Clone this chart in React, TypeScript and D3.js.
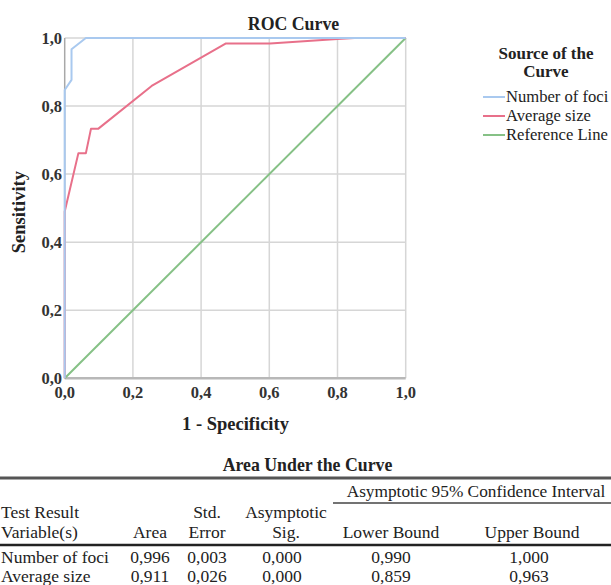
import React from "react";
import * as d3 from "d3";

// ---- Data ----
const fociFpr = [0, 0, 0.02, 0.02, 0.062, 1];
const fociSens = [0, 0.847, 0.877, 0.967, 1, 1];
const sizeFpr = [0, 0, 0.04, 0.062, 0.077, 0.098, 0.255, 0.473, 0.602, 0.8, 0.85, 1];
const sizeSens = [0, 0.49, 0.661, 0.661, 0.733, 0.733, 0.859, 0.984, 0.984, 0.997, 1, 1];
const refFpr = [0, 1];
const refSens = [0, 1];
const ticks = [0, 0.2, 0.4, 0.6, 0.8, 1.0];

const seriesNames = ["Number of foci", "Average size", "Reference Line"];
const seriesColors = ["#a9c9ef", "#e8708a", "#86c186"];

const tableVariables = ["Number of foci", "Average size"];
const tableArea = ["0,996", "0,911"];
const tableStdError = ["0,003", "0,026"];
const tableSig = ["0,000", "0,000"];
const tableLower = ["0,990", "0,859"];
const tableUpper = ["1,000", "0,963"];

const FONT = "Liberation Serif, Times New Roman, serif";

export default function App() {
  const x = d3.scaleLinear().domain([0, 1]).range([64.7, 405.7]);
  const y = d3.scaleLinear().domain([0, 1]).range([378.3, 38]);
  const fmt = (v: number) => v.toFixed(1).replace(".", ",");

  const line = d3
    .line<[number, number]>()
    .x((d) => x(d[0]))
    .y((d) => y(d[1]));

  const series = [
    { fpr: refFpr, sens: refSens, color: seriesColors[2] },
    { fpr: sizeFpr, sens: sizeSens, color: seriesColors[1] },
    { fpr: fociFpr, sens: fociSens, color: seriesColors[0] },
  ];

  const rowBase = [563, 582];
  const T = (props: any) => <text fontFamily={FONT} fill="#222" {...props} />;

  return (
    <svg
      width={611}
      height={585}
      style={{ position: "absolute", left: 0, top: 0, background: "#fff" }}
      fontFamily={FONT}
    >
      <rect x={0} y={0} width={611} height={585} fill="#fff" />
      {/* Title */}
      <T x={293.5} y={30} textAnchor="middle" fontWeight="bold" fontSize={17.8}>
        ROC Curve
      </T>

      {/* Grid */}
      {ticks.slice(1).map((t) => (
        <line key={"gx" + t} x1={x(t)} x2={x(t)} y1={y(0)} y2={y(1)} stroke="#d6d6d6" strokeWidth={1.5} />
      ))}
      {ticks.slice(1).map((t) => (
        <line key={"gy" + t} x1={x(0)} x2={x(1)} y1={y(t)} y2={y(t)} stroke="#d6d6d6" strokeWidth={1.5} />
      ))}
      {/* Axes */}
      <line x1={x(0)} x2={x(0)} y1={y(0)} y2={y(1)} stroke="#a8a8a8" strokeWidth={1.5} />
      <line x1={x(0)} x2={x(1)} y1={y(0)} y2={y(0)} stroke="#b8b8b8" strokeWidth={2.5} />

      {/* Tick labels */}
      {ticks.map((t) => (
        <T key={"ty" + t} x={62} y={y(t) + 6} textAnchor="end" fontWeight="bold" fontSize={16.5} fill="#333">
          {fmt(t)}
        </T>
      ))}
      {ticks.map((t) => (
        <T key={"tx" + t} x={x(t)} y={397.5} textAnchor="middle" fontWeight="bold" fontSize={16.5} fill="#333">
          {fmt(t)}
        </T>
      ))}

      {/* Axis titles */}
      <T x={235.5} y={430} textAnchor="middle" fontWeight="bold" fontSize={18.5}>
        1 - Specificity
      </T>
      <T
        transform={`translate(25, ${(y(0) + y(1)) / 2 + 4}) rotate(-90)`}
        textAnchor="middle"
        fontWeight="bold"
        fontSize={18.5}
      >
        Sensitivity
      </T>

      {/* Curves */}
      {series.map((s, i) => (
        <path
          key={"s" + i}
          d={line(s.fpr.map((f, j) => [f, s.sens[j]] as [number, number])) || ""}
          fill="none"
          stroke={s.color}
          strokeWidth={2}
          strokeLinejoin="round"
        />
      ))}

      {/* Legend */}
      <T x={546} y={59} textAnchor="middle" fontWeight="bold" fontSize={17}>
        Source of the
      </T>
      <T x={546} y={77} textAnchor="middle" fontWeight="bold" fontSize={17}>
        Curve
      </T>
      {seriesNames.map((n, i) => (
        <g key={"lg" + i}>
          <line x1={483} x2={505} y1={97 + i * 19} y2={97 + i * 19} stroke={seriesColors[i]} strokeWidth={2} />
          <T x={506} y={102 + i * 19} fontSize={16.6}>
            {n}
          </T>
        </g>
      ))}

      {/* Table */}
      <T x={307.5} y={471} textAnchor="middle" fontWeight="bold" fontSize={17.8}>
        Area Under the Curve
      </T>
      <line x1={0} x2={611} y1={478} y2={478} stroke="#555" strokeWidth={3} />
      <T x={476} y={497} textAnchor="middle" fontSize={17.3}>
        Asymptotic 95% Confidence Interval
      </T>
      <line x1={333} x2={611} y1={503} y2={503} stroke="#444" strokeWidth={1.5} />
      <line x1={0} x2={611} y1={545} y2={545} stroke="#222" strokeWidth={2.5} />

      <T x={1} y={518} fontSize={17.5}>Test Result</T>
      <T x={1} y={538} fontSize={17.5}>Variable(s)</T>
      <T x={150} y={538} textAnchor="middle" fontSize={17.5}>Area</T>
      <T x={207} y={518} textAnchor="middle" fontSize={17.5}>Std.</T>
      <T x={207} y={538} textAnchor="middle" fontSize={17.5}>Error</T>
      <T x={286} y={518} textAnchor="middle" fontSize={17.5}>Asymptotic</T>
      <T x={286} y={538} textAnchor="middle" fontSize={17.5}>Sig.</T>
      <T x={391} y={538} textAnchor="middle" fontSize={17.5}>Lower Bound</T>
      <T x={532} y={538} textAnchor="middle" fontSize={17.5}>Upper Bound</T>
      {tableVariables.map((v, i) => (
        <g key={"row" + i}>
          <T x={1} y={rowBase[i]} fontSize={17.5}>{v}</T>
          <T x={150} y={rowBase[i]} textAnchor="middle" fontSize={17.5}>{tableArea[i]}</T>
          <T x={207} y={rowBase[i]} textAnchor="middle" fontSize={17.5}>{tableStdError[i]}</T>
          <T x={282} y={rowBase[i]} textAnchor="middle" fontSize={17.5}>{tableSig[i]}</T>
          <T x={391} y={rowBase[i]} textAnchor="middle" fontSize={17.5}>{tableLower[i]}</T>
          <T x={529} y={rowBase[i]} textAnchor="middle" fontSize={17.5}>{tableUpper[i]}</T>
        </g>
      ))}
    </svg>
  );
}
